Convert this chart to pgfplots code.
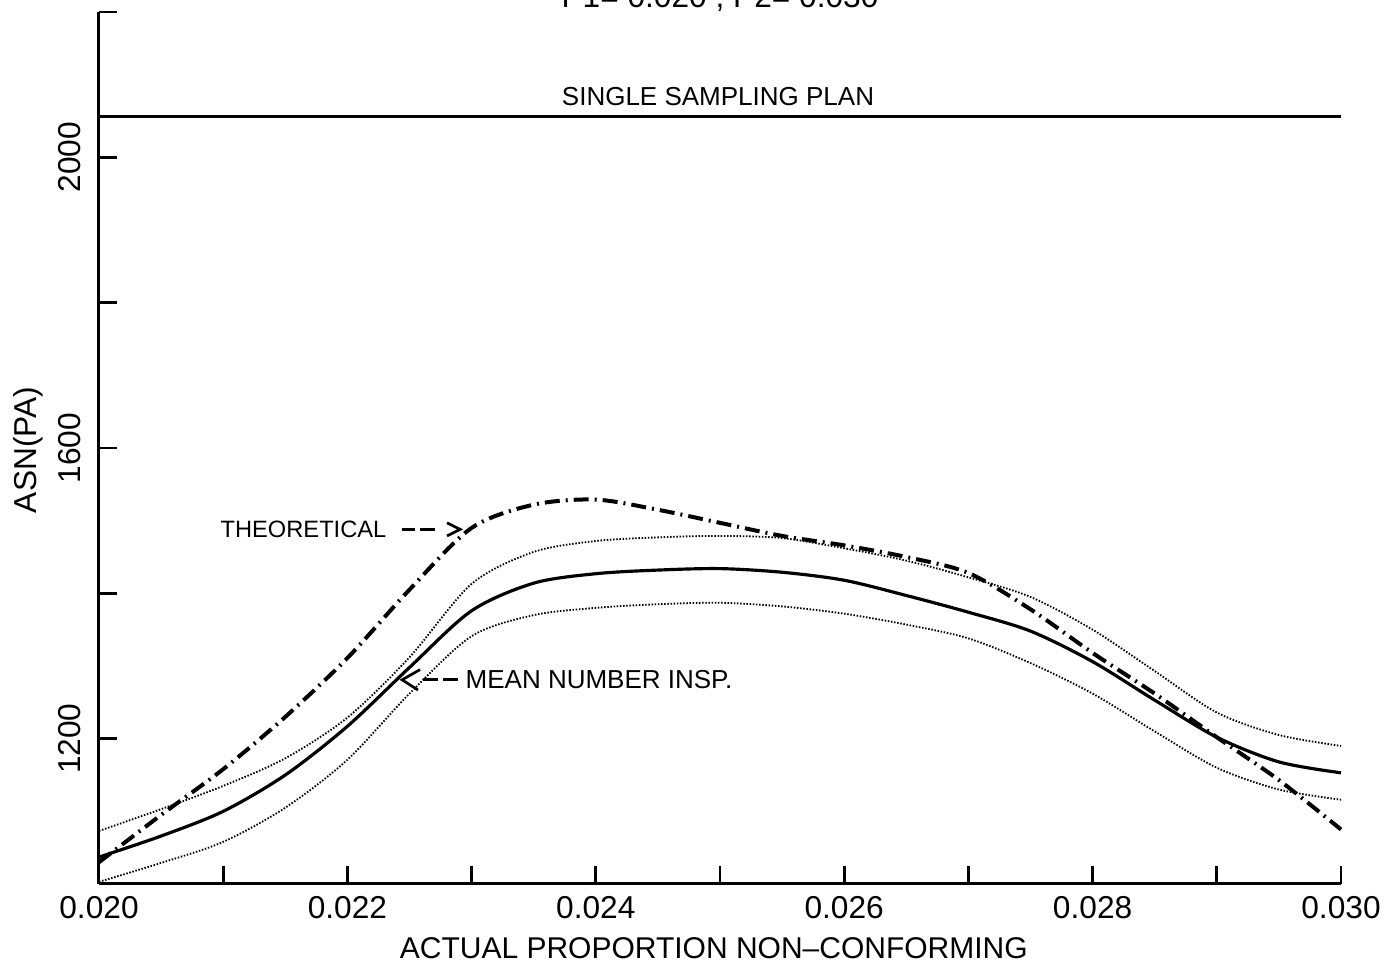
\documentclass[border=0pt]{standalone}
\usepackage{fontspec}
\setmainfont{Liberation Sans}
\usepackage{pgfplots}
\usepackage{pgfplotstable}
\pgfplotsset{compat=1.18}

\pgfplotstableread{
x      mean  upper lower theo
0.0200 1037  1073  1003  1030
0.0205 1066  1103  1029  1095
0.0210 1100  1135  1058  1158
0.0215 1150  1173  1105  1230
0.0220 1217  1229  1171  1311
0.0225 1298  1312  1262  1405
0.0230 1376  1413  1341  1490
0.0235 1414  1457  1370  1522
0.0240 1427  1472  1380  1529
0.0245 1432  1477  1385  1515
0.0250 1434  1479  1387  1497
0.0255 1429  1476  1382  1479
0.0260 1418  1462  1372  1466
0.0265 1397  1445  1357  1450
0.0270 1374  1422  1338  1428
0.0275 1348  1395  1304  1378
0.0280 1306  1350  1262  1318
0.0285 1253  1293  1210  1262
0.0290 1202  1236  1160  1202
0.0295 1168  1205  1130  1143
0.0300 1153  1190  1116  1075
}\asn

\begin{document}
\begin{tikzpicture}
\begin{axis}[
  name=ax,
  scale only axis, width=372.6pt, height=261.6pt,
  xmin=0.020, xmax=0.030, ymin=1000, ymax=2200,
  axis lines=left,
  axis line style={-, line width=0.9pt},
  tick align=inside,
  major tick length=5.4pt,
  tick style={line width=0.8pt, black},
  scaled x ticks=false, scaled y ticks=false,
  xtick={0.020,0.021,0.022,0.023,0.024,0.025,0.026,0.027,0.028,0.029,0.030},
  xticklabels={0.020,,0.022,,0.024,,0.026,,0.028,,0.030},
  ytick={1000,1200,1400,1600,1800,2000,2200},
  yticklabels={,1200,,1600,,2000,},
  ticklabel style={font=\fontsize{9.5}{11}\selectfont},
  xticklabel style={inner sep=3.6pt},
  yticklabel style={rotate=90, anchor=south, inner sep=5.4pt},
  xlabel={ACTUAL PROPORTION NON–CONFORMING},
  xlabel style={at={(axis description cs:0.495,-0.0734)}, anchor=center, inner sep=0pt, font=\fontsize{9}{11}\selectfont},
  ylabel={ASN(PA)},
  ylabel style={at={(axis description cs:-0.0572,0.4977)}, anchor=center, inner sep=0pt, font=\fontsize{9.5}{11}\selectfont},
  clip=false,
]
\addplot[black, line width=0.95pt, smooth] table[x=x, y=mean] {\asn};
\addplot[black, line width=0.55pt, dash pattern=on 0.45pt off 0.5pt, smooth] table[x=x, y=upper] {\asn};
\addplot[black, line width=0.55pt, dash pattern=on 0.45pt off 0.5pt, smooth] table[x=x, y=lower] {\asn};
\addplot[black, line width=1.2pt, dash pattern=on 4.5pt off 1.8pt on 0.6pt off 1.8pt, smooth] table[x=x, y=theo] {\asn};
\addplot[black, line width=0.7pt] coordinates {(0.020,2056) (0.030,2056)};

\node[inner sep=0pt, font=\fontsize{7.8}{9}\selectfont] at (axis cs:0.024984,2084) {SINGLE SAMPLING PLAN};

\node[anchor=west, inner sep=0pt, font=\fontsize{7.1}{9}\selectfont] at (axis cs:0.020974,1488) {THEORETICAL};
\draw[line width=0.9pt] (axis cs:0.022440,1488) -- (axis cs:0.022544,1488);
\draw[line width=0.9pt] (axis cs:0.022585,1488) -- (axis cs:0.022705,1488);
\draw[line width=0.8pt] (axis cs:0.022802,1497) -- (axis cs:0.022907,1488) -- (axis cs:0.022802,1479);

\node[anchor=west, inner sep=0pt, font=\fontsize{7.8}{9}\selectfont] at (axis cs:0.022947,1281) {MEAN NUMBER INSP.};
\draw[line width=0.8pt] (axis cs:0.022585,1295) -- (axis cs:0.022440,1281) -- (axis cs:0.022568,1267);
\draw[line width=0.9pt] (axis cs:0.022609,1281) -- (axis cs:0.022729,1281);
\draw[line width=0.9pt] (axis cs:0.022770,1281) -- (axis cs:0.022890,1281);
\end{axis}
\node[anchor=base, inner sep=0pt, font=\fontsize{9.5}{11}\selectfont] at ([shift={(186.3pt,1.3pt)}]ax.north west) {P1= 0.020 , P2= 0.030};
\pgfresetboundingbox
\useasboundingbox ([shift={(-29.7pt,-26.4pt)}]ax.south west) rectangle ([shift={(13.2pt,3.6pt)}]ax.north east);
\end{tikzpicture}
\end{document}
